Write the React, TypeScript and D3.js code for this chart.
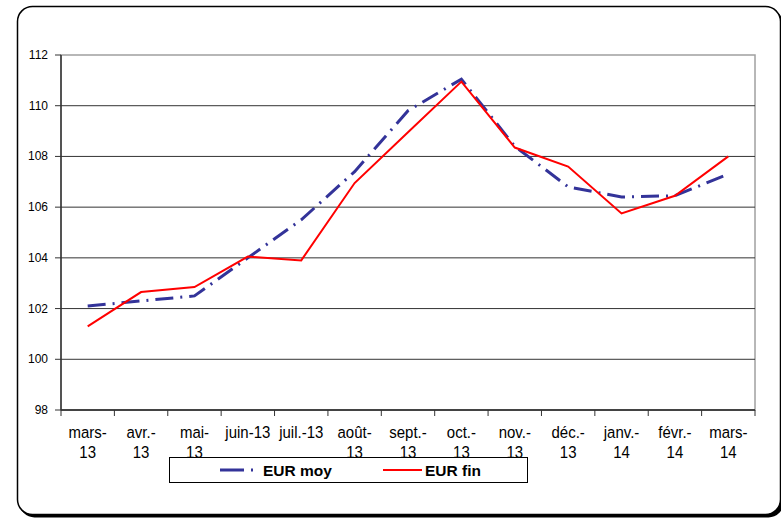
import React from "react";
import * as d3 from "d3";

// categories (tick labels, already split into lines as in the picture)
const categories = [
  "mars-13", "avr.-13", "mai-13", "juin-13", "juil.-13", "août-13", "sept.-13",
  "oct.-13", "nov.-13", "déc.-13", "janv.-14", "févr.-14", "mars-14",
];
const tickLines = [
  ["mars-", "13"], ["avr.-", "13"], ["mai-", "13"], ["juin-13"], ["juil.-13"],
  ["août-", "13"], ["sept.-", "13"], ["oct.-", "13"], ["nov.-", "13"],
  ["déc.-", "13"], ["janv.-", "14"], ["févr.-", "14"], ["mars-", "14"],
];
const eurMoy = [102.1, 102.3, 102.5, 104.0, 105.5, 107.4, 109.8, 111.05, 108.4, 106.8, 106.4, 106.45, 107.3];
const eurFin = [101.3, 102.65, 102.85, 104.05, 103.9, 106.95, 108.95, 110.95, 108.35, 107.6, 105.75, 106.45, 108.0];
const yTicks = [98, 100, 102, 104, 106, 108, 110, 112];

const W = 781;
const H = 526;
const margin = { top: 55, right: 26, bottom: 116, left: 61 };
const font = "Arial, 'Liberation Sans', sans-serif";

export default function App() {
  const x = d3
    .scaleBand()
    .domain(categories)
    .range([margin.left, W - margin.right]);
  const y = d3
    .scaleLinear()
    .domain([98, 112])
    .range([H - margin.bottom, margin.top]);
  const cx = (i: number) => (x(categories[i]) as number) + x.bandwidth() / 2;

  const line = d3
    .line<number>()
    .x((_, i) => cx(i))
    .y((d) => y(d));

  const left = margin.left;
  const right = W - margin.right;
  const bottom = y(98);
  const top = y(112);

  return (
    <svg
      width={W}
      height={H}
      style={{ position: "absolute", left: 0, top: 0, background: "#fff" }}
      fontFamily={font}
    >
      {/* frame with shadow */}
      <rect x={19.5} y={9.5} width={764} height={508} rx={15} fill="#000" />
      <rect x={17.5} y={6.5} width={763} height={508} rx={15} fill="#fff" stroke="#000" strokeWidth={1.5} />

      {/* plot area border */}
      <rect x={left} y={top} width={right - left} height={bottom - top} fill="none" stroke="#a0a0a0" strokeWidth={1.5} />

      {/* gridlines */}
      {yTicks.slice(0, -1).map((t) => (
        <line key={"g" + t} x1={left} x2={right} y1={y(t)} y2={y(t)} stroke="#333" strokeWidth={1} />
      ))}

      {/* y axis */}
      <line x1={left} x2={left} y1={top} y2={bottom} stroke="#333" strokeWidth={1.5} />
      {yTicks.map((t) => (
        <g key={"y" + t}>
          <line x1={left - 6} x2={left} y1={y(t)} y2={y(t)} stroke="#333" />
          <text x={48} y={y(t) + 4} textAnchor="end" fontSize={12} fill="#000">
            {t}
          </text>
        </g>
      ))}

      {/* x axis */}
      <line x1={left} x2={right} y1={bottom} y2={bottom} stroke="#333" strokeWidth={1.5} />
      {categories.map((c) => (
        <line
          key={"xt" + c}
          x1={x(c) as number}
          x2={x(c) as number}
          y1={bottom}
          y2={bottom + 6}
          stroke="#333"
        />
      ))}
      <line x1={right} x2={right} y1={bottom} y2={bottom + 6} stroke="#333" />
      {tickLines.map((lines, i) => (
        <g key={"xl" + i} transform={`translate(${cx(i)},${bottom + 28}) scale(1,1.15)`}>
          {lines.map((s, j) => (
            <text key={j} x={0} y={j * 17.2} textAnchor="middle" fontSize={15} fill="#000">
              {s}
            </text>
          ))}
        </g>
      ))}

      {/* series */}
      <path
        d={line(eurMoy) as string}
        fill="none"
        stroke="#333399"
        strokeWidth={3}
        strokeDasharray="18 7 2 7"
      />
      <path d={line(eurFin) as string} fill="none" stroke="#ff0000" strokeWidth={2} />

      {/* legend */}
      <rect x={169.5} y={457.5} width={358} height={25} fill="#fff" stroke="#000" strokeWidth={1} />
      <line x1={220} x2={255} y1={470} y2={470} stroke="#333399" strokeWidth={3} strokeDasharray="24 7 2 7" />
      <text x={263} y={475.5} fontSize={15.5} fontWeight="bold" fill="#000">
        EUR moy
      </text>
      <line x1={383} x2={422} y1={470} y2={470} stroke="#ff0000" strokeWidth={2} />
      <text x={425} y={475.5} fontSize={15.5} fontWeight="bold" fill="#000">
        EUR fin
      </text>
    </svg>
  );
}
